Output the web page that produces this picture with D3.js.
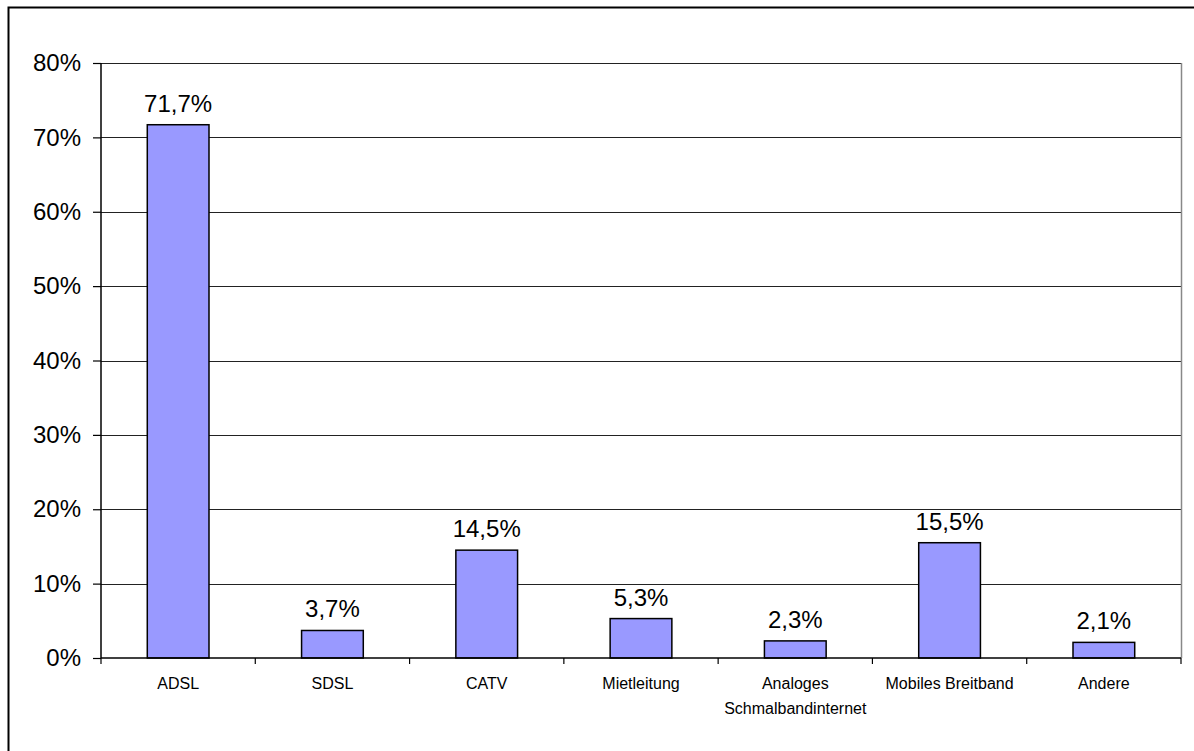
<!DOCTYPE html>
<html>
<head>
<meta charset="utf-8">
<script src="https://cdn.jsdelivr.net/npm/d3@7"></script>
<style>
  body { margin: 0; background: #fff; }
  svg { display: block; font-family: "Liberation Sans", Arial, sans-serif; }
</style>
</head>
<body>
<svg id="chart" width="1194" height="751"></svg>
<script>
const categories = ['ADSL', 'SDSL', 'CATV', 'Mietleitung', 'Analoges\nSchmalbandinternet', 'Mobiles Breitband', 'Andere'];
const values = [71.7, 3.7, 14.5, 5.3, 2.3, 15.5, 2.1];
const yTicks = [0, 10, 20, 30, 40, 50, 60, 70, 80];

const svg = d3.select('#chart');
const margin = {top: 63, right: 13, bottom: 93, left: 101};
const width = +svg.attr('width') - margin.left - margin.right;
const height = +svg.attr('height') - margin.top - margin.bottom;

// outer frame (right / bottom edges fall outside the picture)
svg.append('rect')
  .attr('x', 8.5).attr('y', 7.5)
  .attr('width', 1300).attr('height', 900)
  .attr('fill', 'none')
  .attr('stroke', '#000')
  .attr('stroke-width', 2);

const g = svg.append('g').attr('transform', 'translate(' + margin.left + ',' + margin.top + ')');

const x = d3.scaleBand().domain(categories).range([0, width]).paddingInner(0.6).paddingOuter(0.3);
const xTickScale = d3.scaleLinear().domain([0, categories.length]).range([0, width]);
const y = d3.scaleLinear().domain([0, 80]).range([height, 0]);

// grid lines
g.append('g')
  .selectAll('line')
  .data(yTicks.filter(d => d > 0))
  .join('line')
  .attr('x1', 0).attr('x2', width)
  .attr('y1', d => Math.round(y(d)) + 0.5).attr('y2', d => Math.round(y(d)) + 0.5)
  .attr('stroke', '#222')
  .attr('stroke-width', 1);

// right plot border
g.append('line')
  .attr('x1', width + 0.5).attr('x2', width + 0.5)
  .attr('y1', y(80)).attr('y2', y(0))
  .attr('stroke', '#888')
  .attr('stroke-width', 1.5);

// bars
g.append('g')
  .selectAll('rect')
  .data(values)
  .join('rect')
  .attr('x', (d, i) => x(categories[i]))
  .attr('y', d => y(d))
  .attr('width', x.bandwidth())
  .attr('height', d => y(0) - y(d))
  .attr('fill', '#9999ff')
  .attr('stroke', '#000')
  .attr('stroke-width', 1.5);

// value labels
g.append('g')
  .selectAll('text')
  .data(values)
  .join('text')
  .attr('x', (d, i) => x(categories[i]) + x.bandwidth() / 2)
  .attr('y', d => y(d) - 13)
  .attr('text-anchor', 'middle')
  .style('font-size', '24px')
  .attr('fill', '#000')
  .text(d => d.toFixed(1).replace('.', ',') + '%');

// y axis
const yAxis = g.append('g')
  .call(d3.axisLeft(y).tickValues(yTicks).tickSize(8).tickPadding(12).tickFormat(d => d + '%'));
yAxis.select('.domain').attr('stroke', '#000').attr('stroke-width', 1.5).attr('d', 'M0,' + y(80) + 'V' + y(0));
yAxis.selectAll('.tick line').attr('stroke', '#000').attr('stroke-width', 1.2);
yAxis.selectAll('.tick text')
  .attr('fill', '#000')
  .style('font-size', '24px')
  .style('font-family', '"Liberation Sans", Arial, sans-serif');

// x axis
const xAxis = g.append('g').attr('transform', 'translate(0,' + height + ')');
xAxis.append('line')
  .attr('x1', 0).attr('x2', width)
  .attr('y1', 0).attr('y2', 0)
  .attr('stroke', '#000')
  .attr('stroke-width', 1.5);
xAxis.selectAll('line.tick')
  .data(d3.range(categories.length + 1))
  .join('line')
  .attr('class', 'tick')
  .attr('x1', d => xTickScale(d)).attr('x2', d => xTickScale(d))
  .attr('y1', 0).attr('y2', 6)
  .attr('stroke', '#000')
  .attr('stroke-width', 1.2);

const catText = xAxis.selectAll('text.cat')
  .data(categories)
  .join('text')
  .attr('class', 'cat')
  .attr('x', d => x(d) + x.bandwidth() / 2)
  .attr('y', 31)
  .attr('text-anchor', 'middle')
  .style('font-size', '16px')
  .attr('fill', '#000');
catText.each(function(d) {
  const lines = d.split('\n');
  d3.select(this).selectAll('tspan')
    .data(lines)
    .join('tspan')
    .attr('x', x(d) + x.bandwidth() / 2)
    .attr('dy', (l, i) => i === 0 ? 0 : 25)
    .text(l => l);
});
</script>
</body>
</html>
